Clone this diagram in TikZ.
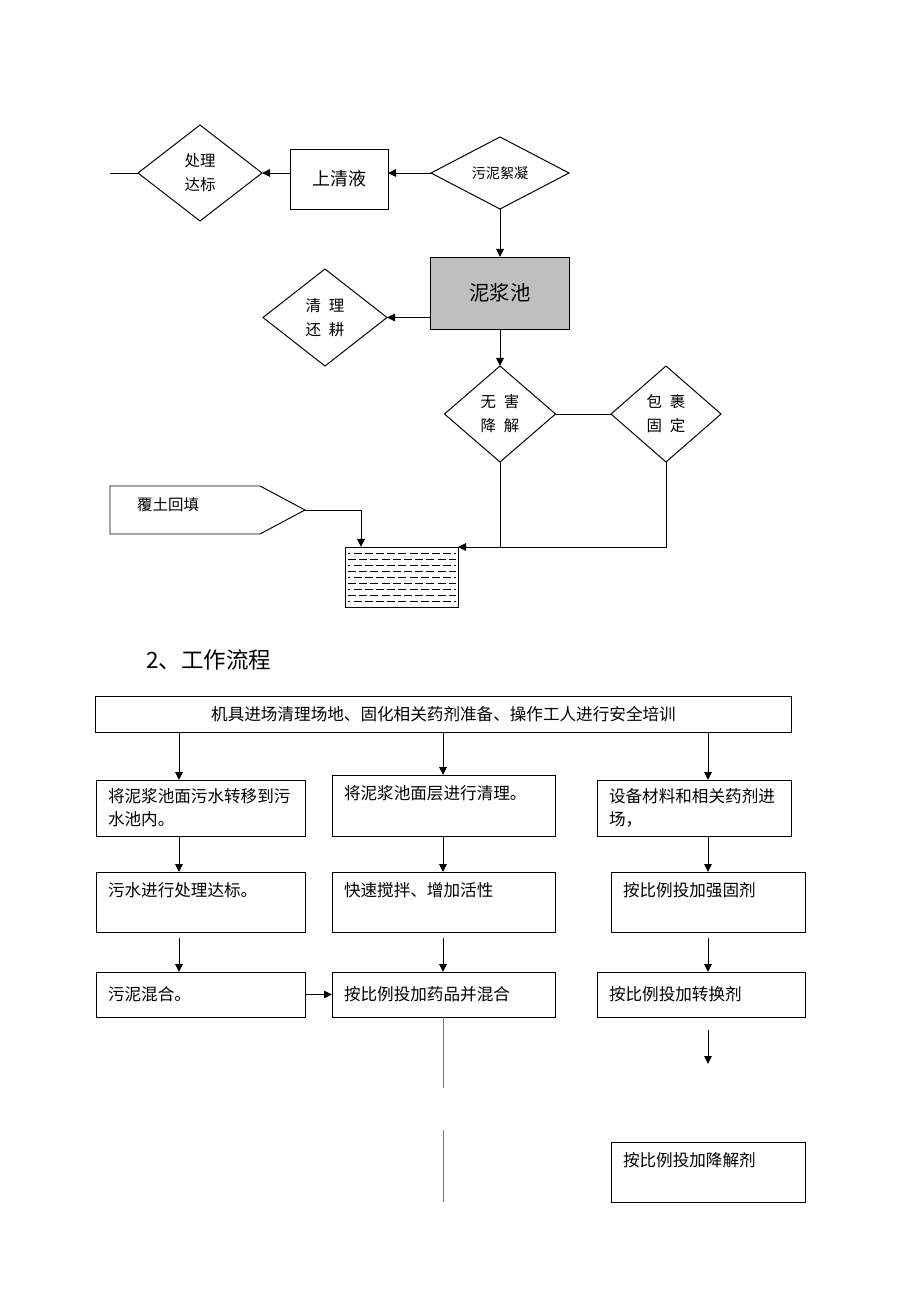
\documentclass[tikz,border=0pt]{standalone}
\usepackage{fontspec}
\setmainfont{Noto Sans CJK SC}
\usetikzlibrary{arrows.meta}
\usetikzlibrary{shapes.geometric}
\newcommand{\boxfont}{\fontsize{11.8pt}{16.4pt}\selectfont}
\newcommand{\diafont}{\fontsize{11pt}{17pt}\selectfont}
\tikzset{box/.style={draw, rectangle, outer sep=0pt, inner xsep=0.3cm, align=left, font=\boxfont}}
\tikzset{topbox/.style={box, inner ysep=0.24cm, text height=0.37cm, text depth=#1}}
\tikzset{dia/.style={draw, diamond, inner sep=0pt, outer sep=0pt, align=center, font=\diafont}}
\tikzset{arrow/.style={-{Triangle[length=2mm,width=1.9mm]}}}

\begin{document}
\begin{tikzpicture}[x=0.025cm, y=-0.025cm, line width=0.7pt]
    \useasboundingbox (0,0) rectangle (920,1302);

    \coordinate (lend) at (110,173);
    \node[dia, minimum width=3.1cm, minimum height=2.4cm] (cl) at (200,173) {处理\\达标};
    \node[box, align=center, minimum width=2.425cm, minimum height=1.5cm,
        font=\fontsize{12.8pt}{15pt}\selectfont] (sqy) at (339.5,179) {上清液};
    \node[dia, minimum width=3.45cm, minimum height=1.8cm,
        font=\fontsize{10pt}{12pt}\selectfont] (xn) at (500,173) {污泥絮凝};
    \node[box, fill=gray!50, align=center, minimum width=3.45cm, minimum height=1.8cm,
        font=\fontsize{14.5pt}{17pt}\selectfont] (njc) at (500,293) {泥浆池};
    \node[dia, minimum width=3.1cm, minimum height=2.425cm] (ql) at (325,317.5) {清\enspace 理\\还\enspace 耕};
    \node[dia, minimum width=2.775cm, minimum height=2.4cm] (wh) at (500,414) {无\enspace 害\\降\enspace 解};
    \node[dia, minimum width=2.75cm, minimum height=2.4cm] (bg) at (666,414) {包\enspace 裹\\固\enspace 定};
    \node[draw, minimum width=2.8cm, minimum height=1.5cm, inner sep=0pt, outer sep=0pt] (pit) at (402,577) {};
    \foreach \i [evaluate=\i as \ph using {mod(\i,2)*4}] in {1,...,9}
        \draw[line width=0.6pt, dash pattern=on 0.2cm off 0.08cm, dash phase=\ph pt]
            (348,{547+6*\i}) -- (456,{547+6*\i});

    \coordinate (fttip) at (305,510);
    \draw (110,486) -- (260,486) -- (fttip) -- (260,534) -- (110,534) -- cycle;
    \node[anchor=west, font=\diafont] (ft) at (132,505) {覆土回填};

    \draw (lend) -- (cl.west);
    \draw[arrow] (sqy.west |- cl.east) -- (cl.east);
    \draw[arrow] (xn.west) -- (sqy.east |- xn.west);
    \draw[arrow] (xn.south) -- (njc.north);
    \draw[arrow] (njc.west |- ql.east) -- (ql.east);
    \draw[arrow] (njc.south) -- (wh.north);
    \draw (wh.east) -- (bg.west);
    \draw (wh.south) -- (wh.south |- pit.north east);
    \draw[arrow] (bg.south) |- (pit.north east);
    \draw[arrow] (fttip) -| ([xshift=0.375cm]pit.north west);

    \node[anchor=west, inner sep=0pt, font=\fontsize{16pt}{19pt}\selectfont] (hd) at (146,660) {2、工作流程};

    \node[box, align=center, minimum width=17.375cm, minimum height=0.9cm] (tp) at (443.5,714)
        {机具进场清理场地、固化相关药剂准备、操作工人进行安全培训};
    \coordinate (ca) at (179,0);
    \coordinate (cb) at (443,0);
    \coordinate (cc) at (708,0);

    \node[box, anchor=north west, text width=4.625cm, minimum height=1.4cm] (a1) at (96,780)
        {将泥浆池面污水转移到污\\水池内。};
    \node[topbox=0.675cm, anchor=north west, text width=4.975cm] (b1) at (332,775) {将泥浆池面层进行清理。};
    \node[box, anchor=north west, text width=4.25cm, minimum height=1.4cm] (c1) at (597,780)
        {设备材料和相关药剂进\\场，};

    \node[topbox=0.65cm, anchor=north west, text width=4.625cm] (a2) at (96,872) {污水进行处理达标。};
    \node[topbox=0.65cm, anchor=north west, text width=4.975cm] (b2) at (332,872) {快速搅拌、增加活性};
    \node[topbox=0.65cm, anchor=north west, text width=4.25cm] (c2) at (611,872) {按比例投加强固剂};

    \node[box, anchor=north west, text width=4.625cm, minimum height=1.125cm] (a3) at (96,972) {污泥混合。};
    \node[box, anchor=north west, text width=4.975cm, minimum height=1.125cm] (b3) at (332,972) {按比例投加药品并混合};
    \node[box, anchor=north west, text width=4.6cm, minimum height=1.125cm] (c3) at (597,972) {按比例投加转换剂};

    \node[topbox=0.65cm, anchor=north west, text width=4.25cm] (c4) at (611,1142) {按比例投加降解剂};

    \draw[arrow] (ca |- tp.south) -- (ca |- a1.north);
    \draw[arrow] (cb |- tp.south) -- (cb |- b1.north);
    \draw[arrow] (cc |- tp.south) -- (cc |- c1.north);
    \draw[arrow] (ca |- a1.south) -- (ca |- a2.north);
    \draw[arrow] (cb |- b1.south) -- (cb |- b2.north);
    \draw[arrow] (cc |- c1.south) -- (cc |- c2.north);
    \draw[arrow, shorten <=0.15cm] (ca |- a2.south) -- (ca |- a3.north);
    \draw[arrow, shorten <=0.15cm] (cb |- b2.south) -- (cb |- b3.north);
    \draw[arrow, shorten <=0.15cm] (cc |- c2.south) -- (cc |- c3.north);
    \draw[arrow] (a3.east) -- (a3.east -| b3.west);

    \coordinate (cend) at (708,1064);
    \draw[arrow, shorten <=0.325cm] (cc |- c3.south) -- (cend);
    \coordinate (bgap1) at (443,1088);
    \coordinate (bgap2) at (443,1130);
    \coordinate (bend) at (443,1202);
    \draw[black!55] (cb |- b3.south) -- (bgap1);
    \draw[black!55] (bgap2) -- (bend);
\end{tikzpicture}
\end{document}
